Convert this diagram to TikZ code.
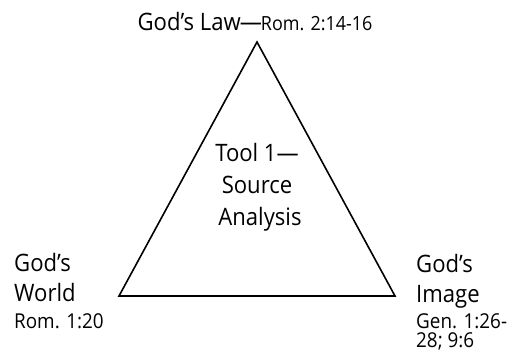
\documentclass[tikz,border=0pt]{standalone}
\usepackage{fontspec}
\setmainfont[FakeStretch=0.92]{Open Sans}
\begin{document}
\begin{tikzpicture}[x=1pt,y=-1pt,
  big/.style={font=\fontsize{24}{30}\selectfont, inner sep=0pt},
  small/.style={font=\fontsize{20.5}{21}\selectfont, inner sep=0pt},
  tri/.style={draw, line width=1.6pt, line join=miter}]
\useasboundingbox (0,0) rectangle (514,356);
\coordinate (apex) at (257,42);
\coordinate (bl) at (119,296);
\coordinate (br) at (395,296);
\draw[tri] (apex) -- (bl) -- (br) -- cycle;
% top
\node[anchor=base, inner sep=0pt] (law) at (255,30) {\fontsize{24}{30}\selectfont God's Law\kern-1pt—\kern-1pt\fontsize{19.5}{20}\selectfont Rom. 2:14-16};
% center
\node[big, anchor=base] (c1) at (257,161) {Tool 1—};
\node[big, anchor=base] (c2) at (257,193) {Source};
\node[big, anchor=base] (c3) at (260,225) {Analysis};
% left
\node[big, anchor=base west] (l1) at (14,271) {God's};
\node[big, anchor=base west] (l2) at (14,301) {World};
\node[small, anchor=base west] (l3) at (14,328) {Rom. 1:20};
% right
\node[big, anchor=base west] (r1) at (416,272) {God's};
\node[big, anchor=base west] (r2) at (416,302) {Image};
\node[small, anchor=base west] (r3) at (416,328) {Gen. 1:26-};
\node[small, anchor=base west] (r4) at (416,347) {28; 9:6};
\end{tikzpicture}
\end{document}
